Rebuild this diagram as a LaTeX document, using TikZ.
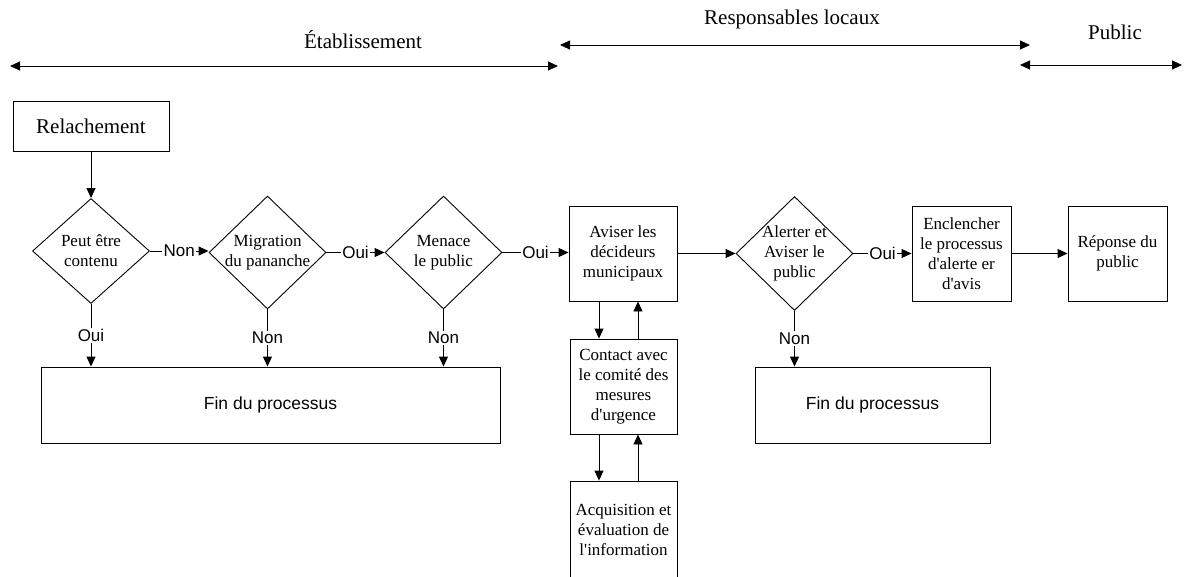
\documentclass[tikz,border=0pt]{standalone}
\usepackage{fontspec}
% straight apostrophes, as typed
\setmainfont{Liberation Serif}[Ligatures=TeXOff]
\setsansfont{Liberation Sans}
\usetikzlibrary{arrows.meta,shapes.geometric,calc}

\begin{document}
\begin{tikzpicture}[x=1pt,y=-1pt,
  line width=0.9pt,
  tip/.style={-{Triangle[length=10pt,width=9pt]}},
  span/.style={{Triangle[length=10pt,width=9pt]}-{Triangle[length=10pt,width=9pt]}},
  box/.style={draw, rectangle, inner sep=0pt, align=center,
    font=\fontsize{17}{20}\selectfont},
  dia/.style={draw, diamond, inner sep=0pt, minimum width=117pt},
  diatext/.style={align=center, inner sep=0pt, font=\fontsize{17}{20}\selectfont},
  endbox/.style={draw, rectangle, inner sep=0pt, minimum height=76pt,
    font=\sffamily\fontsize{17.5}{20}\selectfont},
  lab/.style={fill=white, inner sep=1.5pt, font=\sffamily\fontsize{17}{20}\selectfont},
  head/.style={inner sep=0pt, font=\fontsize{21}{24}\selectfont}
]
\useasboundingbox (0,0) rectangle (1184,576);

% responsibility bands
\node[head] (hEtab) at (363,40) {Établissement};
\coordinate (e1) at (10,66);
\coordinate (e2) at (558,66);
\draw[span] (e1) -- (e2);

\node[head] (hResp) at (792,19) {Responsables locaux};
\coordinate (r1) at (560,45);
\coordinate (r2) at (1030,45);
\draw[span] (r1) -- (r2);

\node[head] (hPub) at (1115,32) {Public};
\coordinate (p1) at (1020,65);
\coordinate (p2) at (1182,65);
\draw[span] (p1) -- (p2);

% start
\node[box, minimum width=156pt, minimum height=50pt,
  font=\fontsize{21}{24}\selectfont] (rel) at (91,126) {Relachement};

% decisions
\node[dia, minimum height=105pt] (d1) at (91,251) {};
\node[diatext] at (d1) {Peut être\\contenu};
\node[dia, minimum height=113pt] (d2) at (267.5,252.5) {};
\node[diatext] at (d2) {Migration\\du pananche};
\node[dia, minimum height=113pt] (d3) at (443.5,252.5) {};
\node[diatext] at (d3) {Menace\\le public};
\node[dia, minimum height=114pt] (d4) at (794.5,253.5) {};
\node[diatext] at (d4) {Alerter et\\Aviser le\\public};

% process boxes
\node[box, minimum width=108pt, minimum height=95pt] (avis) at (623,253.5)
  {Aviser les\\décideurs\\municipaux};
\node[box, minimum width=107pt, minimum height=95pt] (cont) at (623.5,386.5)
  {Contact avec\\le comité des\\mesures\\d'urgence};
\node[box, minimum width=107pt, minimum height=97pt] (acq) at (623.5,529.5)
  {Acquisition et\\évaluation de\\l'information};
\node[box, minimum width=99pt, minimum height=95pt] (encl) at (961.5,253.5)
  {Enclencher\\le processus\\d'alerte er\\d'avis};
\node[box, minimum width=99pt, minimum height=95pt] (rep) at (1117.5,253.5)
  {Réponse du\\public};

% end states
\node[endbox, minimum width=459pt] (fin1) at (270.5,405) {Fin du processus};
\node[endbox, minimum width=235pt] (fin2) at (872.5,405) {Fin du processus};

% main flow
\draw[tip] (rel) -- (d1);
\draw[tip] (d1.east) -- node[lab] {Non} (d1.east -| d2.west);
\draw[tip] (d2.east) -- node[lab] {Oui} (d2.east -| d3.west);
\draw[tip] (d3.east) -- node[lab] {Oui} (d3.east -| avis.west);
\draw[tip] (avis.east) -- (avis.east -| d4.west);
\draw[tip] (d4.east) -- node[lab] {Oui} (d4.east -| encl.west);
\draw[tip] (encl) -- (rep);

% exits to the end states
\draw[tip] (d1.south) -- node[lab] {Oui} (d1.south |- fin1.north);
\draw[tip] (d2.south) -- node[lab] {Non} (d2.south |- fin1.north);
\draw[tip] (d3.south) -- node[lab] {Non} (d3.south |- fin1.north);
\draw[tip] (d4.south) -- node[lab] {Non} (d4.south |- fin2.north);

% consultation loop
\draw[tip] ($(avis.south)+(-24,0)$) -- ($(cont.north)+(-24.5,0)$);
\draw[tip] ($(cont.north)+(14.5,0)$) -- ($(avis.south)+(15,0)$);
\draw[tip] ($(cont.south)+(-24.5,0)$) -- ($(acq.north)+(-24.5,0)$);
\draw[tip] ($(acq.north)+(14.5,0)$) -- ($(cont.south)+(14.5,0)$);
\end{tikzpicture}
\end{document}
